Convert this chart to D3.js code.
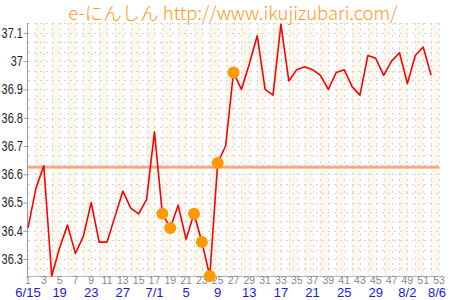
<!DOCTYPE html>
<html>
<head>
<meta charset="utf-8">
<script src="https://cdn.jsdelivr.net/npm/d3@7"></script>
<style>
  body { margin: 0; background: #fff; }
  svg { display: block; }
</style>
</head>
<body>
<div id="chart"></div>
<script>
// basal body temperature, one value per cycle day (day 1 = 6/15)
const temps = [
    36.41, 36.55, 36.63, 36.24, 36.34, 36.42, 36.32, 36.38, 36.50, 36.36,
    36.36, 36.45, 36.54, 36.48, 36.46, 36.51, 36.75, 36.46, 36.41, 36.49,
    36.37, 36.46, 36.36, 36.24, 36.64, 36.70, 36.96, 36.90, 36.99, 37.09,
    36.90, 36.88, 37.13, 36.93, 36.97, 36.98, 36.97, 36.95, 36.90, 36.96,
    36.97, 36.91, 36.88, 37.02, 37.01, 36.95, 37.00, 37.03, 36.92, 37.02,
    37.05, 36.95
];
const markedDays = [18, 19, 22, 23, 24, 25, 27];
const coverline = 36.625;
const yTicks = [36.3, 36.4, 36.5, 36.6, 36.7, 36.8, 36.9, 37.0, 37.1];
const dayTicks = d3.range(1, 54, 2);
const dateTicks = [1, 5, 9, 13, 17, 21, 25, 29, 33, 37, 41, 45, 49, 53];
const dateLabels = ["6/15", "19", "23", "27", "7/1", "5", "9", "13", "17", "21", "25", "29", "8/2", "8/6"];
const title = "e-にんしん http://www.ikujizubari.com/";

const width = 450, height = 300;
const margin = {top: 23, right: 11, bottom: 24, left: 28};

const svg = d3.select('#chart').append('svg')
    .attr('width', width)
    .attr('height', height);

const x = d3.scaleLinear()
    .domain([1, 53])
    .range([margin.left, width - margin.right]);

const y = d3.scaleLinear()
    .domain([36.24, 37.135])
    .range([height - margin.bottom, margin.top]);

// alternating beige stripes, one per pair of days
svg.append('g')
    .selectAll('rect')
    .data(d3.range(2, 53, 2))
    .enter()
    .append('rect')
    .attr('x', d => x(d))
    .attr('y', margin.top)
    .attr('width', d => x(d + 1) - x(d))
    .attr('height', y.range()[0] - margin.top)
    .attr('fill', '#fef8ec');

// dashed grid
const grid = svg.append('g')
    .attr('stroke', '#d4d4d4')
    .attr('stroke-width', 1)
    .attr('stroke-dasharray', '2,4');

grid.selectAll('line.v')
    .data(d3.range(2, 54))
    .enter()
    .append('line')
    .attr('class', 'v')
    .attr('x1', d => Math.round(x(d)) + 0.5)
    .attr('x2', d => Math.round(x(d)) + 0.5)
    .attr('y1', margin.top)
    .attr('y2', y.range()[0]);

const hLines = d3.range(0, 28).map(i => 36.3 - 0.1 / 3 + i * 0.1 / 3)
    .filter(v => y(v) >= margin.top && y(v) <= y.range()[0] - 2);
grid.selectAll('line.h')
    .data(hLines)
    .enter()
    .append('line')
    .attr('class', 'h')
    .attr('x1', margin.left)
    .attr('x2', width - margin.right)
    .attr('y1', d => Math.round(y(d)) + 0.5)
    .attr('y2', d => Math.round(y(d)) + 0.5);

// coverline
svg.append('line')
    .attr('x1', margin.left)
    .attr('x2', width - margin.right)
    .attr('y1', y(coverline))
    .attr('y2', y(coverline))
    .attr('stroke', '#fbb496')
    .attr('stroke-width', 3);
svg.append('line')
    .attr('x1', margin.left)
    .attr('x2', width - margin.right)
    .attr('y1', y(coverline))
    .attr('y2', y(coverline))
    .attr('stroke', '#f89a78')
    .attr('stroke-width', 1);

// y axis
const yAxis = d3.axisLeft(y)
    .tickValues(yTicks)
    .tickSize(4)
    .tickPadding(2)
    .tickFormat(d => +d.toFixed(1));
const gy = svg.append('g')
    .attr('transform', `translate(${margin.left - 0.5},0)`)
    .call(yAxis);
gy.select('.domain').attr('stroke', '#999').attr('d', `M0,${margin.top}V${y.range()[0]}`);
gy.selectAll('.tick line').attr('stroke', '#999');
gy.selectAll('.tick text')
    .attr('fill', '#222')
    .attr('transform', 'scale(0.78,1)')
    .style('font-family', '"Liberation Sans", Arial, sans-serif')
    .style('font-size', '14px');

// x axis: day numbers
svg.append('line')
    .attr('x1', margin.left)
    .attr('x2', width - margin.right)
    .attr('y1', y.range()[0] + 0.5)
    .attr('y2', y.range()[0] + 0.5)
    .attr('stroke', '#bbb');

svg.append('g')
    .selectAll('text')
    .data(dayTicks)
    .enter()
    .append('text')
    .attr('x', d => x(d))
    .attr('y', 284)
    .attr('text-anchor', 'middle')
    .attr('fill', '#888')
    .style('font-family', '"Liberation Sans", Arial, sans-serif')
    .style('font-size', '10.5px')
    .text(d => d);

// x axis: dates
svg.append('g')
    .selectAll('text')
    .data(dateTicks)
    .enter()
    .append('text')
    .attr('x', (d, i) => x(d) - (i === dateTicks.length - 1 ? 2 : 0))
    .attr('y', 297)
    .attr('text-anchor', 'middle')
    .attr('fill', '#1a1adf')
    .style('font-family', '"Liberation Sans", Arial, sans-serif')
    .style('font-size', '13px')
    .text((d, i) => dateLabels[i]);

// temperature line
const line = d3.line()
    .x((d, i) => x(i + 1))
    .y(d => y(d));

svg.append('path')
    .datum(temps)
    .attr('d', line)
    .attr('fill', 'none')
    .attr('stroke', '#ff0000')
    .attr('stroke-width', 1.6)
    .attr('stroke-linejoin', 'round');

// highlighted days
svg.append('g')
    .selectAll('circle')
    .data(markedDays)
    .enter()
    .append('circle')
    .attr('cx', d => x(d))
    .attr('cy', d => y(temps[d - 1]))
    .attr('r', 6)
    .attr('fill', '#ff9900');

// title
svg.append('text')
    .attr('x', 233)
    .attr('y', 20)
    .attr('text-anchor', 'middle')
    .attr('fill', '#ff9a1a')
    .style('font-family', '"Noto Sans CJK JP", "Noto Sans", sans-serif')
    .style('font-size', '18.5px')
    .style('font-weight', '300')
    .text(title);
</script>
</body>
</html>
